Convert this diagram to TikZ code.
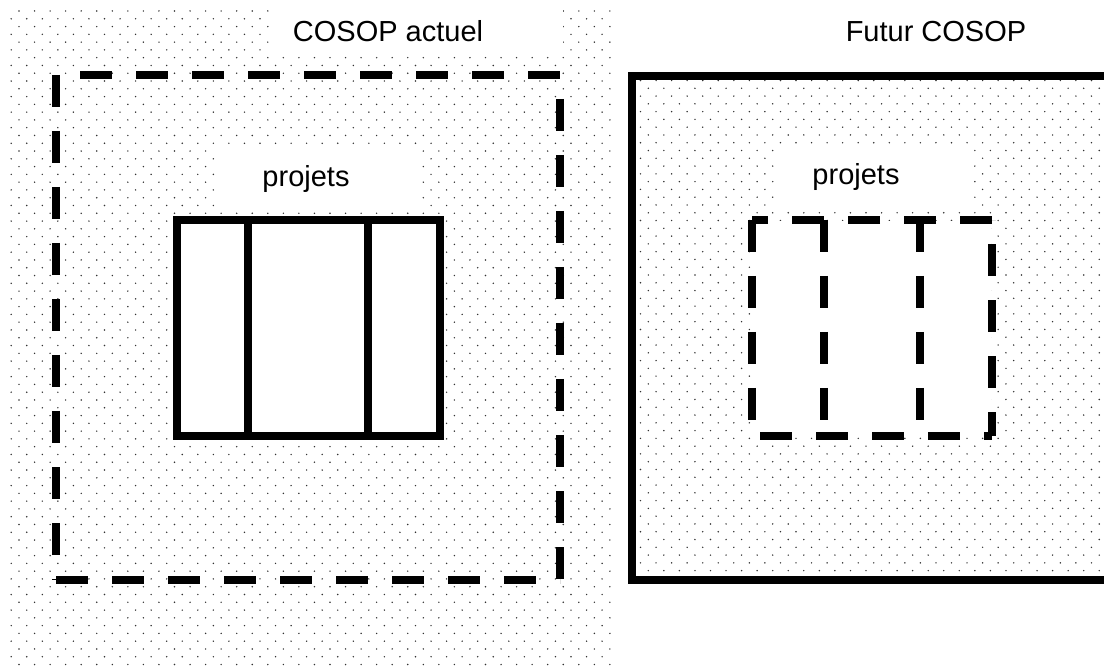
\documentclass[tikz,border=0pt]{standalone}
\usepackage{fontspec}
\setmainfont{Liberation Sans}
\tikzset{
  dotmark/.style={fill=black!80},
  blank/.style={fill=white, draw=none},
  solidedge/.style={line width=8pt, line join=miter},
  dashedge/.style={line width=8pt, dash pattern=on 32pt off 24pt},
  caption/.style={font=\fontsize{29}{34}\selectfont, anchor=base, inner sep=0pt},
}
\begin{document}
\begin{tikzpicture}[x=1pt, y=-1pt]
\useasboundingbox (0,0) rectangle (1104,668);
\begin{scope}
\clip (0,0) rectangle (1104,668);

% ---- left panel: stippled background ----
\foreach \j in {0,...,84} {
  \pgfmathsetmacro\yy{11+7.78*\j}
  \pgfmathsetmacro\xo{mod(\j,2)==1 ? 11.2 : 19}
  \foreach \k in {0,...,38} {
    \fill[dotmark] (\xo+15.55*\k, \yy) circle (0.8pt);
  }
}
% clear areas behind the titles and inside the project box
\fill[blank] (270,0) rectangle (563,54);
\fill[blank] (220,146) rectangle (418,208);
\fill[blank] (177,220) rectangle (440,436);

% current programme: dashed frame, one side at a time
\draw[dashedge, dash phase=32pt] (56,75) -- (560,75);
\draw[dashedge, dash phase=32pt] (560,75) -- (560,580);
\draw[dashedge] (56,75) -- (56,580);
\draw[dashedge] (56,580) -- (560,580);

% current projects: solid box split in three
\draw[solidedge] (177,220) rectangle (440,436);
\draw[solidedge] (248,220) -- (248,436);
\draw[solidedge] (368,220) -- (368,436);

% ---- right panel: stippled interior of the solid frame ----
\foreach \j in {0,...,63} {
  \pgfmathsetmacro\yy{80.5+7.78*\j}
  \pgfmathsetmacro\xo{mod(\j,2)==1 ? 648.3 : 640.5}
  \foreach \k in {0,...,29} {
    \fill[dotmark] (\xo+15.55*\k, \yy) circle (0.8pt);
  }
}
\fill[blank] (775,144) rectangle (974,207);
\fill[blank] (753,221) rectangle (991,435);

% future programme: solid frame running off the right edge
\draw[solidedge] (632,76) rectangle (1140,580);

% future projects: dashed box split in three
\draw[dashedge] (992,220) -- (752,220);
\draw[dashedge] (752,220) -- (752,436);
\draw[dashedge, dash phase=48pt] (752,436) -- (992,436);
\draw[dashedge, dash phase=8pt] (992,436) -- (992,220);
\draw[dashedge] (824,220) -- (824,436);
\draw[dashedge] (920,220) -- (920,436);
\end{scope}

% titles
\node[caption] (actuel) at (388,42) {COSOP actuel};
\node[caption] (futur) at (936,42) {Futur COSOP};
\node[caption] (projA) at (306,187) {projets};
\node[caption] (projB) at (856,185) {projets};
\end{tikzpicture}
\end{document}
